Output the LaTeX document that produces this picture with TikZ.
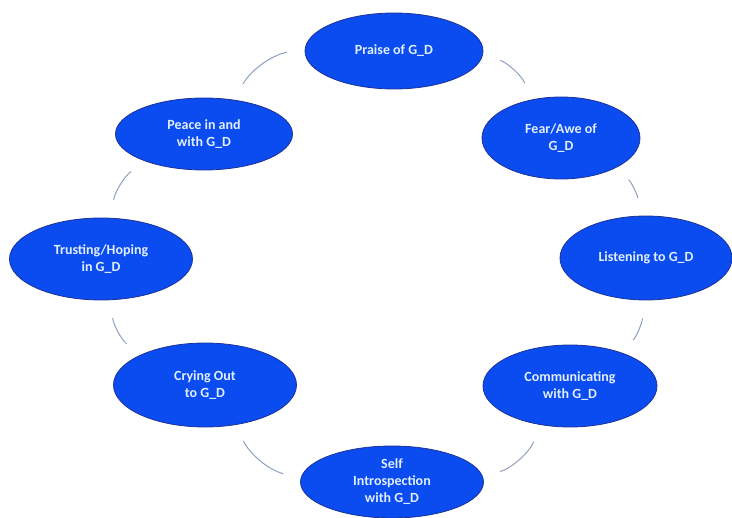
\documentclass[tikz,border=0pt]{standalone}
\usepackage{fontspec}
\setmainfont{Carlito}
\usetikzlibrary{shapes.geometric}
\definecolor{ebl}{RGB}{10,76,240}
\definecolor{eedge}{RGB}{30,50,150}
\definecolor{conn}{RGB}{140,160,190}
\definecolor{etext}{RGB}{225,238,255}
\tikzset{
  ell/.style={ellipse, draw=eedge, line width=0.8pt, fill=ebl, text=etext,
    inner sep=0pt, align=center, font=\bfseries\fontsize{14}{17}\selectfont},
  link/.style={draw=conn, line width=1pt, shorten <=18pt, shorten >=18pt}
}
\begin{document}
\begin{tikzpicture}[x=1pt,y=-1pt]
\useasboundingbox (0,0) rectangle (732,518);
\node[ell, minimum width=178pt, minimum height=76pt] (praise) at (394,51) {Praise of G\_D};
\node[ell, minimum width=158pt, minimum height=82pt] (fear) at (561,138) {Fear/Awe of\\G\_D};
\node[ell, minimum width=172pt, minimum height=84pt] (listen) at (646,258) {Listening to G\_D};
\node[ell, minimum width=174pt, minimum height=82pt] (comm) at (570,386) {Communicating\\with G\_D};
\node[ell, minimum width=183pt, minimum height=72pt] (self) at (392,482) {Self\\Introspection\\with G\_D};
\node[ell, minimum width=183pt, minimum height=84pt] (cry) at (205,385) {Crying Out\\to G\_D};
\node[ell, minimum width=183pt, minimum height=82pt] (trust) at (101,259) {Trusting/Hoping\\in G\_D};
\node[ell, minimum width=177pt, minimum height=72pt] (peace) at (204,134) {Peace in and\\with G\_D};
\draw[link] (praise) to[bend left=25] (fear);
\draw[link] (fear) to[bend left=25] (listen);
\draw[link] (listen) to[bend left=25] (comm);
\draw[link] (comm) to[bend left=25] (self);
\draw[link] (self) to[bend left=25] (cry);
\draw[link] (cry) to[bend left=25] (trust);
\draw[link] (trust) to[bend left=25] (peace);
\draw[link] (peace) to[bend left=25] (praise);
\end{tikzpicture}
\end{document}
